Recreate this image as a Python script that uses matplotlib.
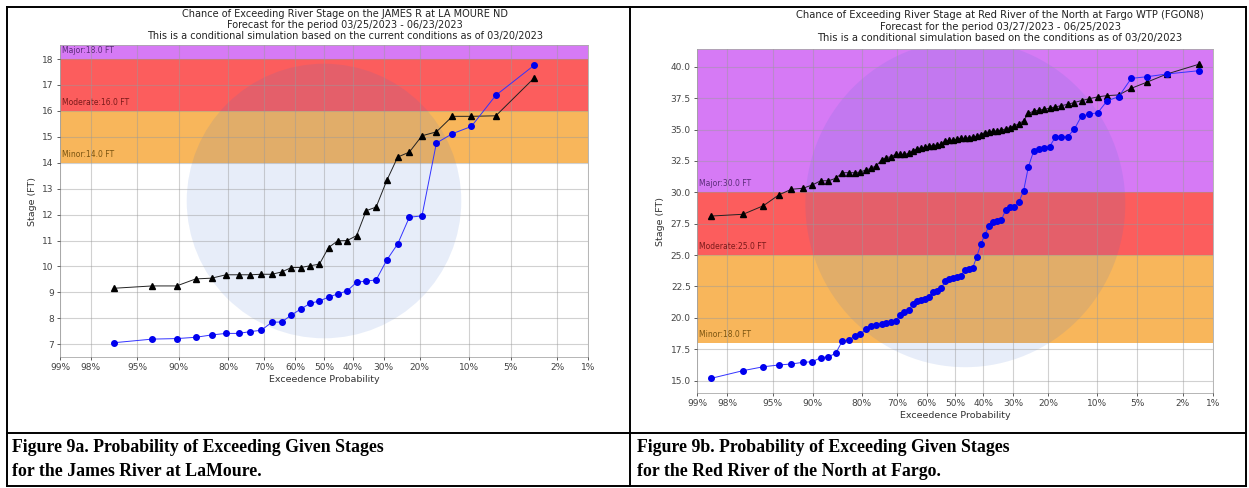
import matplotlib
matplotlib.use("Agg")
import matplotlib.pyplot as plt
import matplotlib.patches as mpatches
from matplotlib.lines import Line2D
import numpy as np
from statistics import NormalDist

# ---------------------------------------------------------------
# data
# ---------------------------------------------------------------
PROB_TICKS = [99, 98, 95, 90, 80, 70, 60, 50, 40, 30, 20, 10, 5, 2, 1]

# James R at La Moure (30 simulated years)
james_prob = [96.8, 93.5, 90.3, 87.1, 83.9, 80.6, 77.4, 74.2, 71.0, 67.7,
              64.5, 61.3, 58.1, 54.8, 51.6, 48.4, 45.2, 41.9, 38.7, 35.5,
              32.3, 29.0, 25.8, 22.6, 19.4, 16.1, 12.9, 9.7, 6.5, 3.2]
james_upper = [9.16, 9.25, 9.25, 9.52, 9.55, 9.68, 9.68, 9.68, 9.70, 9.70,
               9.79, 9.96, 9.96, 10.03, 10.09, 10.73, 10.99, 11.00, 11.19, 12.15,
               12.29, 13.32, 14.22, 14.41, 15.04, 15.19, 15.79, 15.79, 15.81, 17.27]
james_lower = [7.06, 7.20, 7.22, 7.27, 7.36, 7.42, 7.42, 7.49, 7.54, 7.85,
               7.86, 8.13, 8.36, 8.58, 8.67, 8.82, 8.94, 9.06, 9.39, 9.44,
               9.48, 10.25, 10.87, 11.90, 11.95, 14.76, 15.12, 15.40, 16.60, 17.76]
james_flood = [14.0, 16.0, 18.0]

# Red River of the North at Fargo (70 simulated years)
fargo_prob = [98.6, 97.2, 95.8, 94.4, 93.0, 91.5, 90.1, 88.7, 87.3, 85.9,
              84.5, 83.1, 81.7, 80.3, 78.9, 77.5, 76.1, 74.6, 73.2, 71.8,
              70.4, 69.0, 67.6, 66.2, 64.8, 63.4, 62.0, 60.6, 59.2, 57.7,
              56.3, 54.9, 53.5, 52.1, 50.7, 49.3, 47.9, 46.5, 45.1, 43.7,
              42.3, 40.8, 39.4, 38.0, 36.6, 35.2, 33.8, 32.4, 31.0, 29.6,
              28.2, 26.8, 25.4, 23.9, 22.5, 21.1, 19.7, 18.3, 16.9, 15.5,
              14.1, 12.7, 11.3, 9.9, 8.5, 7.0, 5.6, 4.2, 2.8, 1.4]
fargo_upper = [28.11, 28.25, 28.93, 29.79, 30.24, 30.32, 30.58, 30.92, 30.92, 31.11,
               31.56, 31.56, 31.56, 31.62, 31.78, 31.91, 32.12, 32.57, 32.76, 32.84,
               33.02, 33.02, 33.02, 33.10, 33.31, 33.45, 33.55, 33.57, 33.69, 33.72,
               33.77, 33.82, 34.08, 34.15, 34.15, 34.22, 34.30, 34.30, 34.35, 34.40,
               34.45, 34.60, 34.75, 34.80, 34.85, 34.90, 34.95, 35.05, 35.15, 35.30,
               35.45, 35.70, 36.30, 36.45, 36.55, 36.60, 36.70, 36.80, 36.90, 37.00,
               37.15, 37.30, 37.45, 37.60, 37.70, 37.75, 38.28, 38.76, 39.42, 40.19]
fargo_lower = [15.19, 15.80, 16.11, 16.25, 16.33, 16.46, 16.51, 16.83, 16.91, 17.18,
               18.18, 18.24, 18.56, 18.72, 19.09, 19.38, 19.43, 19.51, 19.57, 19.70,
               19.78, 20.23, 20.45, 20.63, 21.08, 21.35, 21.43, 21.48, 21.69, 22.04,
               22.17, 22.36, 22.96, 23.07, 23.18, 23.23, 23.34, 23.84, 23.89, 23.95,
               24.82, 25.86, 26.60, 27.32, 27.66, 27.74, 27.80, 28.59, 28.80, 28.85,
               29.25, 30.13, 32.04, 33.29, 33.42, 33.50, 33.63, 34.38, 34.43, 34.43,
               35.02, 36.08, 36.21, 36.34, 37.29, 37.61, 39.07, 39.20, 39.42, 39.68]
fargo_flood = [18.0, 25.0, 30.0]

FLOOD_NAMES = ["Minor", "Moderate", "Major"]
BAND_COLORS = ["#f8b65b", "#fc5d5d", "#d67af5"]
LABEL_COLORS = ["#7a5410", "#7a1a1a", "#5b2c7a"]

W, H = 1249, 488


def fx(px):
    return px / W


def fy(py):
    return 1 - py / H


# normal-probability axis (increasing in p, inverted by the limits below)
_nd = NormalDist()
_fwd = np.vectorize(lambda p: _nd.inv_cdf(min(max(p / 100.0, 1e-9), 1 - 1e-9)), otypes=[float])
_inv = np.vectorize(lambda z: 100.0 * _nd.cdf(z), otypes=[float])


def draw_panel(ax, prob, upper, lower, flood, ylim, yticks, yfmt, wm):
    ax.set_xscale("function", functions=(_fwd, _inv))
    edges = list(flood) + [ylim[1] + 50]
    for i in range(3):
        ax.axhspan(edges[i], edges[i + 1], color=BAND_COLORS[i], lw=0, zorder=0)
        ax.text(0.004, edges[i] + 0.012 * (ylim[1] - ylim[0]), f"{FLOOD_NAMES[i]}:{flood[i]:.1f} FT",
                transform=ax.get_yaxis_transform(), fontsize=5.5, color=LABEL_COLORS[i],
                va="bottom", ha="left", zorder=2)

    # faint agency seal behind the data
    ax.add_patch(mpatches.Ellipse(wm[:2], wm[2], wm[3], transform=ax.transAxes,
                                  color="#3d6fd0", alpha=0.12, lw=0, zorder=0.5))

    ax.plot(prob, upper, "-", color="#222222", lw=0.7, marker="^", ms=4, mfc="black",
            mec="black", zorder=3)
    ax.plot(prob, lower, "-", color="#3333ff", lw=0.7, marker="o", ms=4, mfc="#0000ee",
            mec="#0000ee", zorder=3)

    ax.set_xticks(PROB_TICKS)
    ax.set_xticklabels([f"{p}%" for p in PROB_TICKS])
    ax.minorticks_off()
    ax.set_xlim(99, 1)
    ax.set_ylim(*ylim)
    ax.set_yticks(yticks)
    ax.set_yticklabels([yfmt.format(v) for v in yticks])
    ax.grid(True, color="#9a9a9a", lw=0.8, alpha=0.45, zorder=1)
    ax.set_axisbelow(False)
    for gl in ax.get_xgridlines() + ax.get_ygridlines():
        gl.set_zorder(1)
    ax.tick_params(labelsize=6.5, colors="#444444", length=2.5, width=0.6, pad=2)
    for s in ax.spines.values():
        s.set_color("#aaaaaa")
        s.set_linewidth(0.6)
    ax.set_xlabel("Exceedence Probability", fontsize=6.8, color="#333333", labelpad=2)
    ax.set_ylabel("Stage (FT)", fontsize=6.8, color="#333333", labelpad=4)


fig = plt.figure(figsize=(W / 100, H / 100), dpi=100)

# left panel: James River
ax1 = fig.add_axes([fx(60), fy(357), (588 - 60) / W, (357 - 45) / H])
draw_panel(ax1, james_prob, james_upper, james_lower, james_flood,
           (6.51, 18.54), list(range(7, 19)), "{:.0f}", (0.50, 0.50, 0.52, 0.88))
for y, line in zip([14, 25, 36], [
        "Chance of Exceeding River Stage on the JAMES R at LA MOURE ND",
        "Forecast for the period 03/25/2023 - 06/23/2023",
        "This is a conditional simulation based on the current conditions as of 03/20/2023"]):
    fig.text(fx(345), fy(y), line, ha="center", va="center", fontsize=7, color="#222222")

# right panel: Red River at Fargo
ax2 = fig.add_axes([fx(697), fy(393), (1213 - 697) / W, (393 - 49) / H])
draw_panel(ax2, fargo_prob, fargo_upper, fargo_lower, fargo_flood,
           (14.02, 41.41), [15, 17.5, 20, 22.5, 25, 27.5, 30, 32.5, 35, 37.5, 40], "{:.1f}",
           (0.52, 0.55, 0.62, 0.95))
for y, line in zip([15, 27, 38], [
        "Chance of Exceeding River Stage at Red River of the North at Fargo WTP (FGON8)",
        "Forecast for the period 03/27/2023 - 06/25/2023",
        "This is a conditional simulation based on the conditions as of 03/20/2023"]):
    fig.text(fx(1000), fy(y), line, ha="center", va="center", fontsize=7.2, color="#222222")

# table frame around the two figures and their captions
frame = [((7, 7), (1246, 7)), ((7, 486), (1246, 486)), ((7, 7), (7, 486)),
         ((1246, 7), (1246, 486)), ((630, 7), (630, 486)), ((7, 433), (1246, 433))]
for (x0, y0), (x1, y1) in frame:
    fig.add_artist(Line2D([fx(x0), fx(x1)], [fy(y0), fy(y1)], color="black", lw=1.4,
                          transform=fig.transFigure))

cap_kw = dict(family="Liberation Serif", weight="bold", fontsize=12.8, va="center", ha="left")
fig.text(fx(12), fy(447), "Figure 9a. Probability of Exceeding Given Stages", **cap_kw)
fig.text(fx(12), fy(471), "for the James River at LaMoure.", **cap_kw)
fig.text(fx(637), fy(447), "Figure 9b. Probability of Exceeding Given Stages", **cap_kw)
fig.text(fx(637), fy(471), "for the Red River of the North at Fargo.", **cap_kw)

fig.savefig("out.png", dpi=100)
